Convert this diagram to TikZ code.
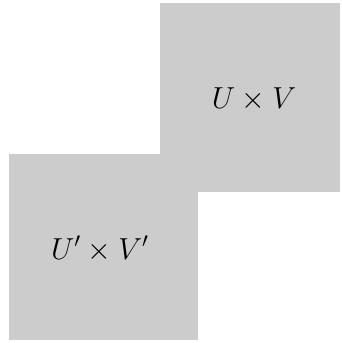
\documentclass[tikz,border=0pt]{standalone}
\usepackage{amsmath, amssymb}
\usepackage{tikz}
\usetikzlibrary{positioning}
\usepackage{xcolor}
\definecolor{boxgray}{RGB}{204, 204, 204}

\begin{document}
\begin{tikzpicture}[x=0.02cm, y=-0.02cm,
  every node/.style={font=\fontsize{18}{22}\selectfont},
  prodbox/.style={fill=boxgray, inner sep=0pt},
  prodlabel/.style={inner sep=0pt, anchor=base}]
\useasboundingbox (0,0) rectangle (342,343);

% ── Upper product ───────────────────────────────────────────────
\node[prodbox, minimum width=3.6cm, minimum height=3.78cm] (uv) at (250,97.5) {};
\node[prodlabel] (uvtext) at (254,108) {$U \times V$};

% ── Lower product ───────────────────────────────────────────────
\node[prodbox, minimum width=3.78cm, minimum height=3.72cm] (uvp) at (103.5,247) {};
\node[prodlabel] (uvptext) at (100,259) {$U' \times V'$};

\end{tikzpicture}
\end{document}
